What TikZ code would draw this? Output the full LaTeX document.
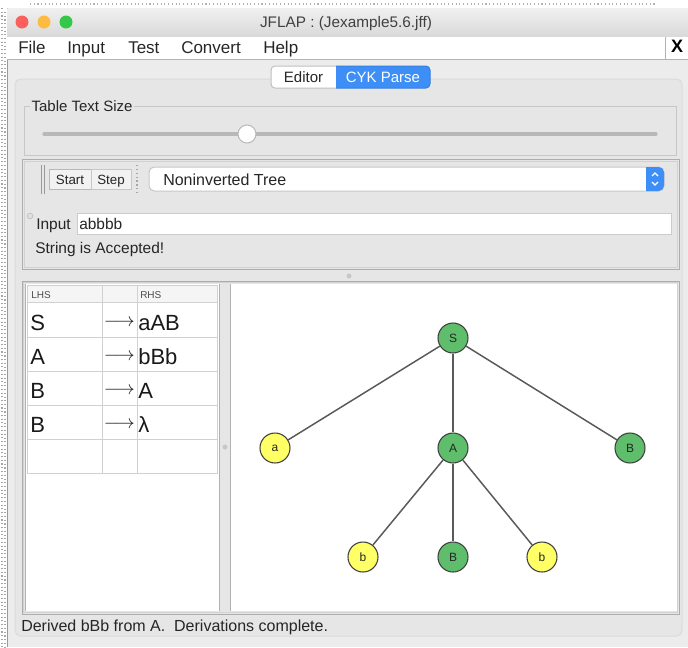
\documentclass[tikz,border=0pt]{standalone}
\usepackage{fontspec}
\setmainfont{Liberation Sans}
\definecolor{winbg}{HTML}{ECECEC}
\definecolor{panelbg}{HTML}{E6E6E6}
\definecolor{tabblue}{HTML}{3D8EF6}
\definecolor{nodegreen}{HTML}{5FBE6C}
\definecolor{nodeyellow}{HTML}{FFFF66}
\definecolor{lightred}{HTML}{FC605C}
\definecolor{lightyellow}{HTML}{FDBC40}
\definecolor{lightgreen}{HTML}{34C84A}
\newcommand\fsz[1]{\fontsize{#1}{#1}\selectfont}
\begin{document}
\begin{tikzpicture}[x=0.75pt,y=-0.75pt,
  txt/.style={inner sep=0pt, anchor=base west, text=black!85},
  ctxt/.style={inner sep=0pt, anchor=base, text=black!85},
  tnode/.style={circle, draw=black!75, line width=0.8pt, minimum size=22.5pt, inner sep=0pt, font=\fsz{9pt}, text=black!85},
  gnode/.style={tnode, fill=nodegreen},
  ynode/.style={tnode, fill=nodeyellow},
  edgeline/.style={draw=black!65, line width=1.1pt},
  grid/.style={draw=black!18, line width=0.75pt},
  frame/.style={draw=black!32, line width=0.75pt},
  innerframe/.style={draw=black!18, line width=0.75pt},
  cell/.style={txt, font=\fsz{16.5pt}, text=black!90},
  arrowcell/.style={inner sep=0pt, anchor=base east, text=black!90, font=\fsz{14.5pt}},
  hdr/.style={txt, font=\fsz{7.5pt}, text=black!70}]
\useasboundingbox (0,0) rectangle (688,647);
% screenshot margin
\fill[white] (0,0) rectangle (688,647);
\draw[black!35, dotted, line width=0.8pt] (2,8) -- (2,647);
\draw[black!35, dotted, line width=0.8pt] (5,12) -- (5,647);
\draw[black!30, dotted, line width=0.8pt] (30,4) -- (655,4);
% window
\fill[winbg] (7,8) rectangle (688,647);
\draw[black!40, line width=0.75pt] (7,647) -- (7,8) -- (688,8);
% title bar
\shade[top color=black!6, bottom color=black!15] (7.4,8.4) rectangle (688,37);
\draw[black!30, line width=0.75pt] (7,37) -- (688,37);
\fill[lightred] (22,22) circle (6.5);
\fill[lightyellow] (44,22) circle (6.5);
\fill[lightgreen] (66,22) circle (6.5);
\node[ctxt, font=\fsz{11.5pt}, text=black!75] (title) at (346,27) {JFLAP : (Jexample5.6.jff)};
% menu bar
\fill[white] (7.4,37.4) rectangle (688,59);
\draw[black!30, line width=0.75pt] (7,59) -- (688,59);
\draw[black!30, line width=0.75pt] (665,37) -- (665,59);
\node[txt, font=\fsz{12.75pt}] (mfile) at (18,53) {File};
\node[txt, font=\fsz{12.75pt}] (minput) at (67,53) {Input};
\node[txt, font=\fsz{12.75pt}] (mtest) at (128,53) {Test};
\node[txt, font=\fsz{12.75pt}] (mconv) at (181,53) {Convert};
\node[txt, font=\fsz{12.75pt}] (mhelp) at (263,53) {Help};
\node[ctxt, font=\bfseries\fsz{13.5pt}, text=black] (mclose) at (677,52.5) {X};
% tabbed panel
\draw[fill=panelbg, draw=black!14, rounded corners=4pt, line width=0.75pt] (15,79) rectangle (682,636);
\begin{scope}
  \clip (260,60) rectangle (336,95);
  \draw[fill=white, draw=black!25, rounded corners=3pt, line width=0.75pt] (271,66) rectangle (346,88);
\end{scope}
\begin{scope}
  \clip (336,60) rectangle (440,95);
  \draw[fill=tabblue, draw=tabblue!90!black, rounded corners=3pt, line width=0.75pt] (326,66) rectangle (430,88);
\end{scope}
\node[ctxt, font=\fsz{11.25pt}] (teditor) at (303.5,82) {Editor};
\node[ctxt, font=\fsz{11.25pt}, text=white] (tcyk) at (383,82) {CYK Parse};
% Table Text Size group
\draw[draw=black!22, line width=0.75pt] (24,106) rectangle (676,155);
\node[txt, font=\fsz{11.25pt}, fill=panelbg, inner xsep=1pt, inner ysep=1pt] (tts) at (30,111) {Table Text Size};
\draw[black!28, line width=2.4pt, line cap=round] (44,134) -- (656,134);
\node[circle, fill=white, draw=black!28, line width=0.75pt, minimum size=13.5pt, inner sep=0pt] (knob) at (247,134) {};
% control panel
\draw[frame] (22,159) rectangle (679,269);
\draw[innerframe] (24,161) rectangle (677,267);
\draw[black!40, line width=0.75pt] (41,165) -- (41,194);
\draw[black!40, line width=0.75pt] (44,165) -- (44,194);
\draw[fill=black!5, draw=black!28, line width=0.75pt] (49,169) rectangle (91,189);
\draw[fill=black!5, draw=tabblue!45, line width=0.75pt] (91,169) rectangle (131,189);
\node[ctxt, font=\fsz{10pt}] (bstart) at (70,184) {Start};
\node[ctxt, font=\fsz{10pt}] (bstep) at (111,184) {Step};
\draw[black!35, dotted, line width=0.9pt] (137,165) -- (137,194);
\draw[fill=white, draw=black!22, rounded corners=4pt, line width=0.75pt] (149,167) rectangle (664,191);
\begin{scope}
  \clip (646,160) rectangle (670,198);
  \fill[tabblue, rounded corners=4pt] (636,167) rectangle (664,191);
\end{scope}
\draw[white, line width=1pt] (652,176) -- (655,173) -- (658,176);
\draw[white, line width=1pt] (652,182) -- (655,185) -- (658,182);
\node[txt, font=\fsz{12pt}] (combo) at (163,185) {Noninverted Tree};
\draw[fill=black!12, draw=black!25, line width=0.5pt] (30,216) circle (2.8);
\node[txt, font=\fsz{11.6pt}] (linput) at (36,229) {Input};
\draw[fill=white, draw=black!20, line width=0.75pt] (77,213) rectangle (671,234);
\node[txt, font=\fsz{11.6pt}] (finput) at (79,229) {abbbb};
\node[txt, font=\fsz{11.6pt}] (accepted) at (35,253) {String is Accepted!};
\fill[black!22] (349,276) circle (2.5);
% lower split pane
\draw[frame] (22,281) rectangle (679,614);
\draw[innerframe] (23.5,282.5) rectangle (677.5,612.5);
\fill[white] (25,284) rectangle (219,611);
\fill[white] (230,284) rectangle (677,611);
\draw[black!30, line width=0.75pt] (219,284) -- (219,611);
\draw[black!30, line width=0.75pt] (230,284) -- (230,611);
\draw[black!30, line width=0.75pt] (25,284) -- (25,611);
\fill[black!22] (225,447) circle (2.5);
% production table
\fill[black!4] (27,285) rectangle (217,302);
\draw[grid] (27,285) rectangle (217,473);
\foreach \yy in {302,337,371,405,439} \draw[grid] (27,\yy) -- (217,\yy);
\draw[grid] (102,285) -- (102,473);
\draw[grid] (137,285) -- (137,473);
\node[hdr] (hlhs) at (31,298) {LHS};
\node[hdr] (hrhs) at (140,298) {RHS};
\node[cell] (l1) at (30,330) {S};
\node[cell] (l2) at (30,364) {A};
\node[cell] (l3) at (30,398) {B};
\node[cell] (l4) at (30,432) {B};
\node[arrowcell] (ar1) at (135,326) {$\longrightarrow$};
\node[arrowcell] (ar2) at (135,360) {$\longrightarrow$};
\node[arrowcell] (ar3) at (135,394) {$\longrightarrow$};
\node[arrowcell] (ar4) at (135,428) {$\longrightarrow$};
\node[cell] (r1) at (138,330) {aAB};
\node[cell] (r2) at (138,364) {bBb};
\node[cell] (r3) at (138,398) {A};
\node[cell] (r4) at (138,432) {λ};
% derivation tree
\node[gnode] (S) at (453,338) {S};
\node[ynode] (a) at (275,448) {a};
\node[gnode] (A) at (453,448) {A};
\node[gnode] (B1) at (630,448) {B};
\node[ynode] (b1) at (363,557) {b};
\node[gnode] (B2) at (453,557) {B};
\node[ynode] (b2) at (542,557) {b};
\draw[edgeline] (S) -- (a);
\draw[edgeline] (S) -- (A);
\draw[edgeline] (S) -- (B1);
\draw[edgeline] (A) -- (b1);
\draw[edgeline] (A) -- (B2);
\draw[edgeline] (A) -- (b2);
% status
\node[txt, font=\fsz{12pt}] (status) at (21,631) {Derived bBb from A.~~Derivations complete.};
\end{tikzpicture}
\end{document}
